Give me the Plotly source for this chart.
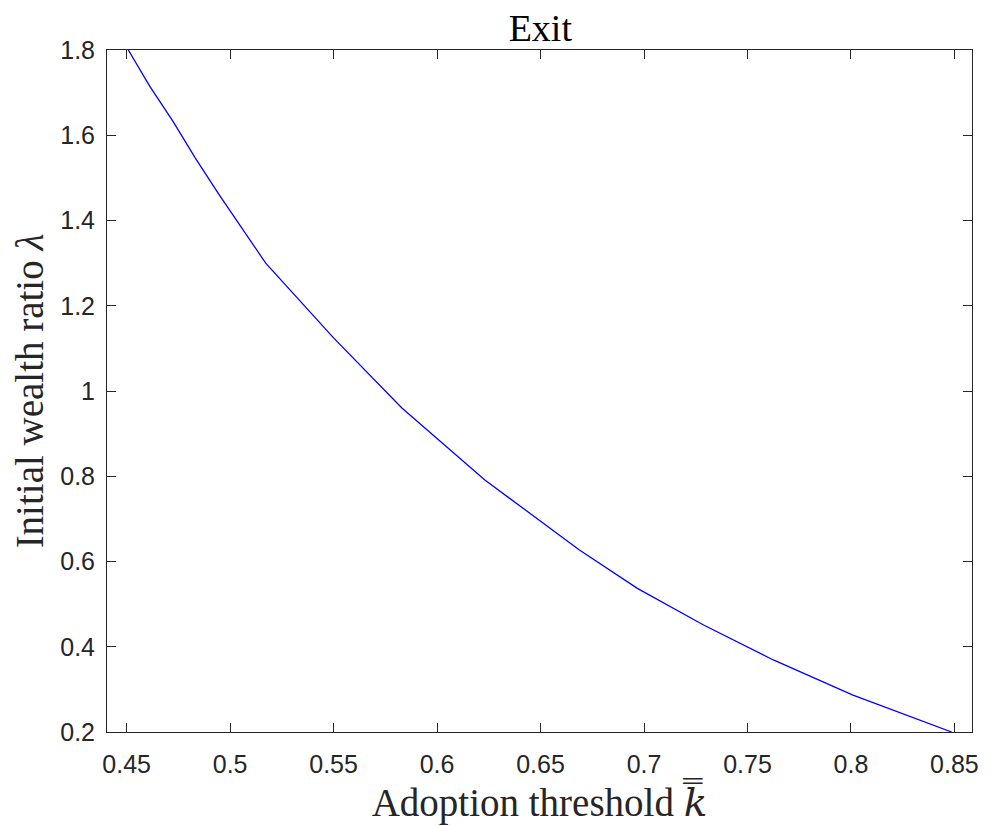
import plotly.graph_objects as go

k_threshold = [0.4508, 0.4612, 0.4724, 0.4832, 0.4945, 0.5172, 0.5501, 0.5830,
               0.6231, 0.6688, 0.6968, 0.7288, 0.7625, 0.8010, 0.8487]
wealth_ratio = [1.800, 1.7146, 1.6324, 1.5465, 1.462, 1.300, 1.124, 0.960,
                0.7913, 0.627, 0.537, 0.451, 0.369, 0.2866, 0.200]

x_ticks = [0.45, 0.5, 0.55, 0.6, 0.65, 0.7, 0.75, 0.8, 0.85]
x_tick_text = ["0.45", "0.5", "0.55", "0.6", "0.65", "0.7", "0.75", "0.8", "0.85"]
y_ticks = [0.2, 0.4, 0.6, 0.8, 1.0, 1.2, 1.4, 1.6, 1.8]
y_tick_text = ["0.2", "0.4", "0.6", "0.8", "1", "1.2", "1.4", "1.6", "1.8"]

SERIF = "Liberation Serif, Times New Roman, serif"
SANS = "Liberation Sans, Arial, sans-serif"

fig = go.Figure()
fig.add_trace(go.Scatter(x=k_threshold, y=wealth_ratio, mode="lines",
                         line=dict(color="#0000ff", width=1.3), showlegend=False))

axis_common = dict(showgrid=False, zeroline=False, showline=True, mirror="allticks",
                   linecolor="#262626", linewidth=1, ticks="inside", ticklen=9,
                   tickcolor="#262626", tickwidth=1,
                   tickfont=dict(family=SANS, size=25, color="#262626"))

fig.update_xaxes(range=[0.4405, 0.8585], tickvals=x_ticks, ticktext=x_tick_text,
                 ticklabelstandoff=10,
                 title=dict(text="Adoption threshold <span style=\"font-family:'DejaVu Serif'\"><i>k̿</i></span>",
                            font=dict(family=SERIF, size=39, color="#262626"),
                            standoff=4),
                 **axis_common)
fig.update_yaxes(range=[0.2, 1.8], tickvals=y_ticks, ticktext=y_tick_text,
                 ticklabelstandoff=6,
                 title=dict(text="Initial wealth ratio <i>λ</i>",
                            font=dict(family=SERIF, size=39, color="#262626"),
                            standoff=8),
                 **axis_common)

fig.update_layout(
    width=983, height=818,
    margin=dict(l=99, r=15, t=42, b=94),
    paper_bgcolor="white", plot_bgcolor="white",
    title=dict(text="Exit", x=0.5415, xanchor="center", y=0.976, yanchor="middle",
               font=dict(family=SERIF, size=38, color="black")),
)

fig.write_html("out.html")
